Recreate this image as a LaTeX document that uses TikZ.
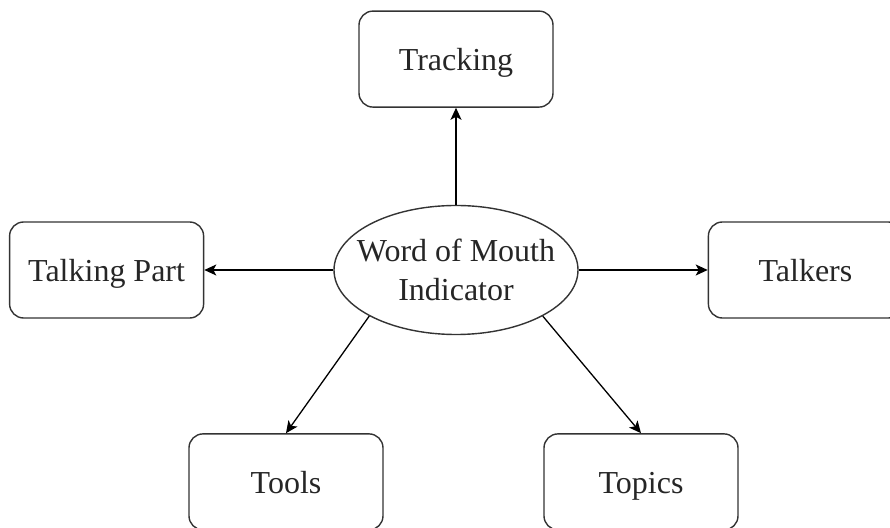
\documentclass[tikz,border=0pt]{standalone}
\usepackage{fontspec}
\setmainfont{Liberation Serif}
\usepackage{tikz}
\usetikzlibrary{shapes.geometric, arrows.meta, positioning}

\begin{document}
\begin{tikzpicture}[
        x=1pt, y=1pt,
        block/.style={rectangle, draw=black!80, line width=1.4pt, rounded corners=14pt, minimum width=194pt, minimum height=96pt, text height=30pt, text depth=7pt, align=center, text=black!85, font=\fontsize{32}{39}\selectfont},
        hub/.style={ellipse, draw=black!80, line width=1.4pt, minimum width=244pt, minimum height=129pt, inner xsep=-20pt, inner ysep=0pt, align=center, text=black!85, font=\fontsize{32}{39}\selectfont},
        line/.style={draw=black, line width=1.3pt, -{Stealth[length=12pt, width=11pt, inset=3pt]}}
    ]
        \useasboundingbox (0,0) rectangle (890,527);

        \node [hub] (mouth) at (456,257) {Word of Mouth\\Indicator};
        \node [block, above=97pt of mouth] (tracking) {Tracking};
        \node [block, left=129pt of mouth] (talkpart) {Talking Part};
        \node [block, right=129pt of mouth] (talkers) {Talkers};
        \node [block, below=98pt of mouth, xshift=-170pt] (tools) {Tools};
        \node [block, below=98pt of mouth, xshift=185pt] (topics) {Topics};

        \draw[line] (mouth) -- (tracking);
        \draw[line] (mouth) -- (talkpart);
        \draw[line] (mouth) -- (talkers);
        \draw[line] (mouth.south west) -- (tools.north);
        \draw[line] (mouth.south east) -- (topics.north);
    \end{tikzpicture}
\end{document}
